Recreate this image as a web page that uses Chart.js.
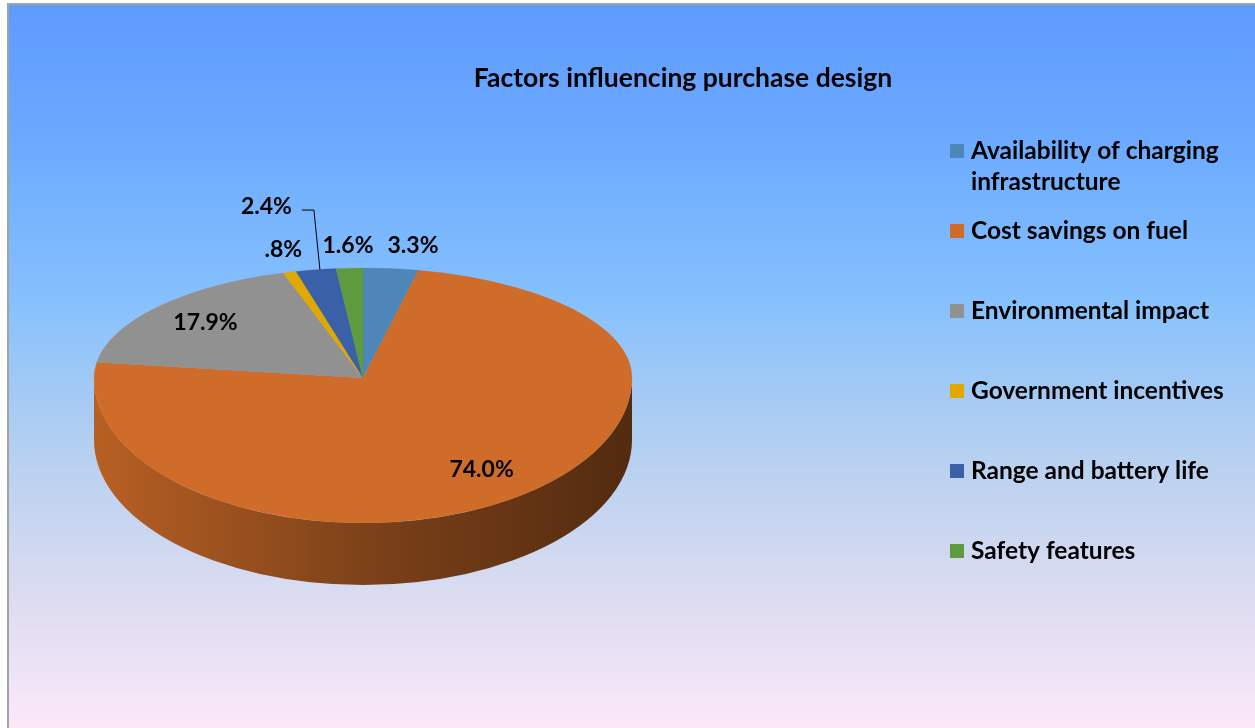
<!DOCTYPE html>
<html>
<head>
<meta charset="utf-8">
<title>Factors influencing purchase design</title>
<script src="https://cdn.jsdelivr.net/npm/chart.js@4.4.1/dist/chart.umd.min.js"></script>
<style>
  html, body { margin: 0; padding: 0; background: #ffffff; overflow: hidden; }
  canvas { display: block; }
</style>
</head>
<body>
<canvas id="chart" width="1255" height="728"></canvas>
<script>
// ---- data ----
const categories = [
  'Availability of charging infrastructure',
  'Cost savings on fuel',
  'Environmental impact',
  'Government incentives',
  'Range and battery life',
  'Safety features'
];
const shares = [3.3, 74.0, 17.9, 0.8, 2.4, 1.6];
const sliceColors = ['#4E86B9', '#CF6C29', '#919191', '#E0A800', '#3A61A8', '#5F9A3E'];
const chartTitle = 'Factors influencing purchase design';

// ---- layout & style ----
const W = 1255, H = 728;
const FONT = 'Lato, "Open Sans", "DejaVu Sans", sans-serif';
// tilted pie: front half is drawn taller than the back half to fake perspective
const PIE = { cx: 363, cy: 378, rx: 269, ryTop: 110, ryBottom: 145, depth: 62 };
const LEGEND = { boxX: 950, textX: 971, firstY: 151, step: 80, lineH: 31, box: 14, maxW: 272 };

function shade(hex, k) {
  const n = parseInt(hex.slice(1), 16);
  const r = Math.round(((n >> 16) & 255) * k);
  const g = Math.round(((n >> 8) & 255) * k);
  const b = Math.round((n & 255) * k);
  return `rgb(${r},${g},${b})`;
}

// screen point on the tilted pie at angle a and radial fraction f
function piePoint(a, f) {
  const s = Math.sin(a);
  const ry = s < 0 ? PIE.ryTop : PIE.ryBottom;
  return { x: PIE.cx + PIE.rx * f * Math.cos(a), y: PIE.cy + ry * f * s };
}

// smallest angular distance between two angles
function angleDist(a, b) {
  let d = Math.abs(a - b) % (2 * Math.PI);
  return d > Math.PI ? 2 * Math.PI - d : d;
}

function formatShare(v) {
  return v.toFixed(1).replace(/^0(?=\.)/, '') + '%';
}

function wrapText(ctx, text, maxW) {
  const words = text.split(' ');
  const lines = [];
  let line = '';
  for (const w of words) {
    const test = line ? line + ' ' + w : w;
    if (line && ctx.measureText(test).width > maxW) {
      lines.push(line);
      line = w;
    } else {
      line = test;
    }
  }
  if (line) lines.push(line);
  return lines;
}

const pie3d = {
  id: 'pie3d',
  beforeDraw(chart) {
    const ctx = chart.ctx;
    ctx.save();
    ctx.fillStyle = '#ffffff';
    ctx.fillRect(0, 0, W, H);
    const g = ctx.createLinearGradient(0, 5, 0, H);
    g.addColorStop(0.00, '#5E9BFF');
    g.addColorStop(0.18, '#6BA9FF');
    g.addColorStop(0.40, '#84C0FD');
    g.addColorStop(0.62, '#B6D0F0');
    g.addColorStop(0.82, '#DCDCF1');
    g.addColorStop(1.00, '#FCE8F9');
    ctx.fillStyle = g;
    ctx.fillRect(8, 4, W - 8, H - 4);
    ctx.strokeStyle = '#a3a3a3';
    ctx.lineWidth = 2;
    ctx.beginPath();
    ctx.moveTo(8, H);
    ctx.lineTo(8, 4);
    ctx.lineTo(W, 4);
    ctx.stroke();
    ctx.restore();
  },
  beforeDatasetsDraw(chart) {
    const ctx = chart.ctx;
    const meta = chart.getDatasetMeta(0);
    const colors = chart.data.datasets[0].backgroundColor;

    // side wall of the front half
    meta.data.forEach((arc, i) => {
      const { startAngle, endAngle } = arc.getProps(['startAngle', 'endAngle'], true);
      const a1 = Math.max(startAngle, 0);
      const a2 = Math.min(endAngle, Math.PI);
      if (a2 <= a1) return;
      const g = ctx.createLinearGradient(PIE.cx - PIE.rx, 0, PIE.cx + PIE.rx, 0);
      g.addColorStop(0, shade(colors[i], 0.89));
      g.addColorStop(0.55, shade(colors[i], 0.58));
      g.addColorStop(1, shade(colors[i], 0.40));
      ctx.save();
      ctx.beginPath();
      ctx.ellipse(PIE.cx, PIE.cy, PIE.rx, PIE.ryBottom, 0, a1, a2);
      ctx.ellipse(PIE.cx, PIE.cy + PIE.depth, PIE.rx, PIE.ryBottom, 0, a2, a1, true);
      ctx.closePath();
      ctx.fillStyle = g;
      ctx.fill();
      ctx.restore();
    });

    // top face: back half and front half with different vertical squash
    const ref = meta.data[0];
    const R = ref.outerRadius, ox = ref.x, oy = ref.y;
    const passes = [
      { y0: 0, y1: PIE.cy + 0.5, ry: PIE.ryTop },
      { y0: PIE.cy, y1: H, ry: PIE.ryBottom }
    ];
    for (const p of passes) {
      ctx.save();
      ctx.beginPath();
      ctx.rect(0, p.y0, W, p.y1 - p.y0);
      ctx.clip();
      ctx.translate(PIE.cx, PIE.cy);
      ctx.scale(PIE.rx / R, p.ry / R);
      ctx.translate(-ox, -oy);
      meta.data.forEach(a => a.draw(ctx));
      ctx.restore();
    }
    return false;
  },
  afterDraw(chart) {
    const ctx = chart.ctx;
    const meta = chart.getDatasetMeta(0);
    const values = chart.data.datasets[0].data;
    ctx.save();
    ctx.fillStyle = '#000000';
    ctx.textAlign = 'center';
    ctx.textBaseline = 'middle';

    // title
    ctx.font = `bold 26.5px ${FONT}`;
    ctx.fillText(chartTitle, 683, 78);

    // data labels
    ctx.font = `bold 23px ${FONT}`;
    const labelH = 22;
    const inside = [], outside = [];
    meta.data.forEach((arc, i) => {
      const { startAngle, endAngle } = arc.getProps(['startAngle', 'endAngle'], true);
      const mid = (startAngle + endAngle) / 2;
      const text = formatShare(values[i]);
      const w = ctx.measureText(text).width;
      if (values[i] >= 10) {
        const p = piePoint(mid, 0.77);
        inside.push({ text, x: p.x, y: p.y });
      } else {
        const P = piePoint(mid, 1);
        const c = Math.cos(mid), s = Math.sin(mid);
        outside.push({
          text, w, mid, P,
          x: P.x + c * (w / 2 + 4),
          y: P.y + s * (labelH / 2 + 12)
        });
      }
    });
    inside.forEach(l => ctx.fillText(l.text, l.x, l.y));

    // spread outside labels sideways from the one closest to 12 o'clock
    if (outside.length) {
      const gap = 14;
      const top = -Math.PI / 2;
      const pivot = outside.reduce((b, l) => angleDist(l.mid, top) < angleDist(b.mid, top) ? l : b);
      const right = outside.filter(l => l !== pivot && l.x >= pivot.x).sort((a, b) => a.x - b.x);
      const left = outside.filter(l => l !== pivot && l.x < pivot.x).sort((a, b) => b.x - a.x);
      let edge = pivot.x + pivot.w / 2;
      for (const l of right) {
        const need = edge + gap - (l.x - l.w / 2);
        if (need > 0) l.x += need;
        edge = l.x + l.w / 2;
      }
      edge = pivot.x - pivot.w / 2;
      for (const l of left) {
        const need = (l.x + l.w / 2) - (edge - gap);
        if (need > 0.45 * l.w) {
          // lift onto an upper row and connect with a leader line
          l.y -= labelH + 18;
          l.x = l.P.x - 24 - l.w / 2;
          l.leader = true;
          continue;
        }
        if (need > 0) l.x -= need;
        edge = l.x - l.w / 2;
      }
      outside.forEach(l => {
        ctx.fillText(l.text, l.x, l.y);
        if (l.leader) {
          const ly = l.y + 3;
          ctx.strokeStyle = '#000000';
          ctx.lineWidth = 1;
          ctx.beginPath();
          ctx.moveTo(l.x + l.w / 2 + 10, ly);
          ctx.lineTo(l.P.x - 2, ly);
          ctx.lineTo(l.P.x + 4, l.P.y);
          ctx.stroke();
        }
      });
    }

    // legend
    ctx.font = `bold 24.5px ${FONT}`;
    ctx.textAlign = 'left';
    const colors = chart.data.datasets[0].backgroundColor;
    chart.data.labels.forEach((name, i) => {
      const y = LEGEND.firstY + LEGEND.step * i;
      ctx.fillStyle = colors[i];
      ctx.fillRect(LEGEND.boxX, y - LEGEND.box / 2, LEGEND.box, LEGEND.box);
      ctx.fillStyle = '#000000';
      wrapText(ctx, name, LEGEND.maxW).forEach((line, k) => {
        ctx.fillText(line, LEGEND.textX, y + k * LEGEND.lineH);
      });
    });
    ctx.restore();
  }
};

new Chart(document.getElementById('chart'), {
  type: 'pie',
  data: {
    labels: categories,
    datasets: [{
      data: shares,
      backgroundColor: sliceColors,
      borderColor: sliceColors,
      borderWidth: 0.5
    }]
  },
  options: {
    responsive: false,
    devicePixelRatio: 1,
    animation: false,
    events: [],
    layout: { padding: 20 },
    plugins: {
      legend: { display: false },
      tooltip: { enabled: false },
      title: { display: false }
    }
  },
  plugins: [pie3d]
});
</script>
</body>
</html>
